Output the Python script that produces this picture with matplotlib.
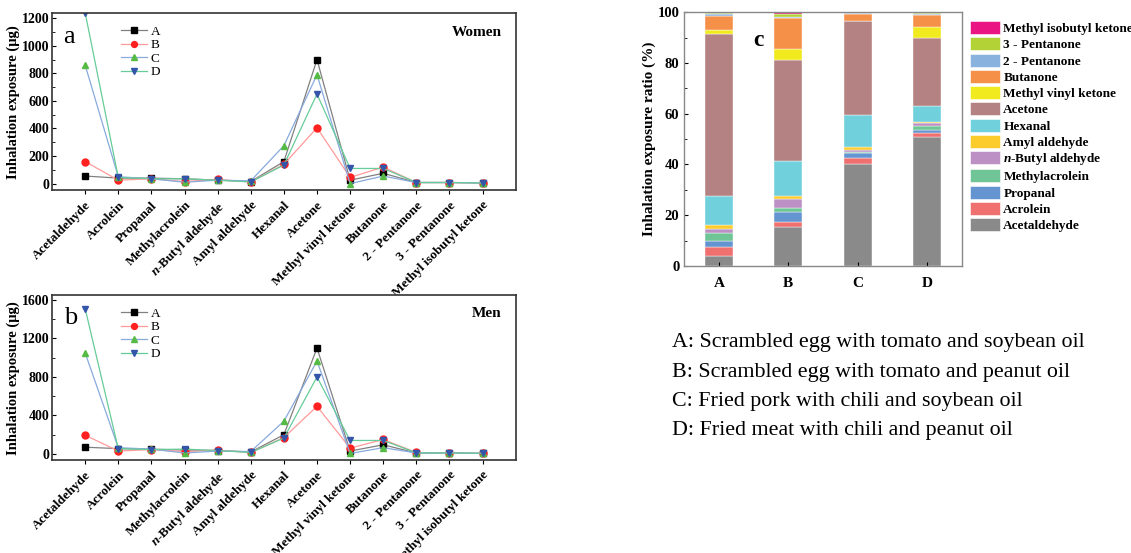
import numpy as np
import matplotlib
matplotlib.use('Agg')
import matplotlib.pyplot as plt
from matplotlib.patches import Patch
from matplotlib.ticker import MultipleLocator

plt.rcParams['font.family'] = ['Liberation Serif', 'DejaVu Serif']
plt.rcParams['mathtext.fontset'] = 'custom'
plt.rcParams['mathtext.it'] = 'Liberation Serif:italic:bold'

compounds = ['Acetaldehyde', 'Acrolein', 'Propanal', 'Methylacrolein', r'$\it{n}$-Butyl aldehyde',
             'Amyl aldehyde', 'Hexanal', 'Acetone', 'Methyl vinyl ketone', 'Butanone',
             '2 - Pentanone', '3 - Pentanone', 'Methyl isobutyl ketone']
meals = ['A', 'B', 'C', 'D']

# women exposure (ug)
women_A = [55, 40, 40, 35, 25, 15, 160, 900, 25, 75, 8, 8, 5]
women_B = [160, 25, 35, 15, 30, 12, 140, 405, 45, 120, 8, 8, 5]
women_C = [860, 50, 35, 10, 25, 20, 275, 790, 0, 55, 8, 8, 5]
women_D = [1240, 45, 35, 35, 25, 12, 135, 650, 110, 110, 8, 8, 5]

# men exposure (ug)
men_A = [70, 55, 50, 40, 35, 20, 200, 1100, 30, 95, 10, 10, 5]
men_B = [195, 30, 45, 25, 40, 15, 170, 495, 60, 150, 15, 12, 5]
men_C = [1050, 65, 50, 10, 30, 25, 340, 965, 5, 65, 10, 10, 5]
men_D = [1510, 55, 45, 50, 35, 15, 165, 800, 140, 140, 12, 10, 8]

# exposure ratio (%) per meal, order as compounds
ratio_A = [3.8, 3.5, 2.7, 3.0, 1.6, 1.4, 11.4, 63.9, 1.7, 5.5, 0.7, 0.4, 0.4]
ratio_B = [15.2, 2.2, 3.9, 1.7, 3.3, 1.4, 13.8, 39.5, 4.5, 12.1, 0.6, 1.0, 0.8]
ratio_C = [40.0, 2.5, 2.0, 0.5, 0.8, 0.9, 12.8, 37.0, 0.2, 2.5, 0.3, 0.2, 0.3]
ratio_D = [50.7, 1.5, 1.5, 1.5, 1.0, 0.6, 6.1, 26.8, 4.5, 4.8, 0.3, 0.2, 0.5]

bar_colors = ['#8a8a8a', '#f07070', '#6495d0', '#70c596', '#bc90c4', '#fccc2c', '#70d0dc',
              '#b48282', '#f0ea1e', '#f59048', '#8ab2de', '#b2d236', '#ea1483']

line_styles = [
    dict(marker='s', color='#808080', mfc='black', mec='black'),
    dict(marker='o', color='#ff9a9a', mfc='#ff2020', mec='#ff2020'),
    dict(marker='^', color='#88aadd', mfc='#55bb44', mec='#55bb44'),
    dict(marker='v', color='#66cc99', mfc='#3355aa', mec='#3355aa'),
]

fig = plt.figure(figsize=(11.31, 5.53), dpi=100)


def line_panel(ax, series, ymax, step, minor, tag, title):
    x = np.arange(len(compounds))
    for name, vals, st in zip(meals, series, line_styles):
        ax.plot(x, vals, lw=0.9, ms=5, label=name, **st)
    ax.set_xlim(-1, len(compounds))
    ax.set_ylim(-ymax * 0.04, ymax * 1.03)
    ax.yaxis.set_major_locator(MultipleLocator(step))
    ax.yaxis.set_minor_locator(MultipleLocator(minor))
    ax.set_xticks(x)
    ax.set_xticklabels(compounds, rotation=45, ha='right', rotation_mode='anchor',
                       fontsize=9.5, fontweight='bold')
    ax.tick_params(axis='y', labelsize=10, direction='in', length=3, pad=2)
    ax.tick_params(axis='y', which='minor', direction='in', length=2)
    ax.tick_params(axis='x', direction='out', length=3)
    for lb in ax.get_yticklabels():
        lb.set_fontweight('bold')
    ax.set_ylabel('Inhalation exposure (μg)', fontsize=10.5, fontweight='bold', labelpad=1)
    for sp in ax.spines.values():
        sp.set_color('#333333')
        sp.set_linewidth(1.2)
    ax.text(0.025, 0.93, tag, transform=ax.transAxes, fontsize=19, va='top')
    ax.text(0.97, 0.93, title, transform=ax.transAxes, fontsize=11, fontweight='bold',
            va='top', ha='right')
    ax.legend(loc='upper left', bbox_to_anchor=(0.125, 0.99), frameon=False, fontsize=9.5,
              handlelength=2.0, labelspacing=0.1, borderpad=0.3, handletextpad=0.3,
              markerscale=0.85)


ax_a = fig.add_axes([0.046, 0.656, 0.410, 0.320])
line_panel(ax_a, [women_A, women_B, women_C, women_D], 1200, 200, 100, 'a', 'Women')

ax_b = fig.add_axes([0.046, 0.168, 0.410, 0.298])
line_panel(ax_b, [men_A, men_B, men_C, men_D], 1600, 400, 200, 'b', 'Men')

# stacked ratio panel
ax_c = fig.add_axes([0.605, 0.519, 0.2453, 0.459])
ratios = np.array([ratio_A, ratio_B, ratio_C, ratio_D]).T
xpos = np.arange(len(meals))
bottom = np.zeros(len(meals))
for name, vals, col in zip(compounds, ratios, bar_colors):
    ax_c.bar(xpos, vals, 0.4, bottom=bottom, color=col, edgecolor='white', linewidth=0.3)
    bottom += vals
ax_c.set_xlim(-0.5, 3.5)
ax_c.set_ylim(0, 100)
ax_c.yaxis.set_major_locator(MultipleLocator(20))
ax_c.yaxis.set_minor_locator(MultipleLocator(10))
ax_c.set_xticks(xpos)
ax_c.set_xticklabels(meals, fontsize=11, fontweight='bold')
ax_c.tick_params(axis='y', labelsize=10.5, direction='in', length=3)
ax_c.tick_params(axis='y', which='minor', direction='in', length=2)
ax_c.tick_params(axis='x', direction='in', length=3, pad=8)
for lb in ax_c.get_yticklabels():
    lb.set_fontweight('bold')
ax_c.set_ylabel('Inhalation exposure ratio (%)', fontsize=11, fontweight='bold', labelpad=1)
for sp in ax_c.spines.values():
    sp.set_color('#888888')
    sp.set_linewidth(1.0)
ax_c.text(0.25, 0.93, 'c', transform=ax_c.transAxes, fontsize=17, fontweight='bold', va='top')

handles = [Patch(facecolor=c, edgecolor='white', linewidth=0.4) for c in bar_colors][::-1]
ax_c.legend(handles, compounds[::-1], loc='upper left', bbox_to_anchor=(1.03, 0.965),
            frameon=False, prop={'size': 9.5, 'weight': 'bold'}, handlelength=2.27,
            handleheight=1.15, labelspacing=0.17, handletextpad=0.25, borderaxespad=0,
            borderpad=0)

notes = ['A: Scrambled egg with tomato and soybean oil',
         'B: Scrambled egg with tomato and peanut oil',
         'C: Fried pork with chili and soybean oil',
         'D: Fried meat with chili and peanut oil']
for i, t in enumerate(notes):
    fig.text(672 / 1131, 1 - (343 + i * 29.3) / 553, t, fontsize=15.8, va='center')

fig.savefig('out.png', dpi=100)
